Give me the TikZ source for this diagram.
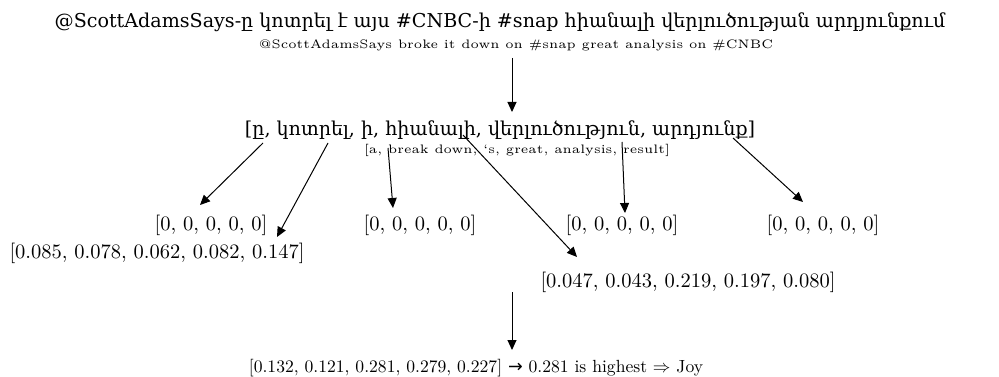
\documentclass[tikz,border=0pt]{standalone}
\usepackage{fontspec}
\usepackage{graphicx}
\newfontfamily\armfont{DejaVu Serif}
\newfontfamily\symfont{DejaVu Sans}
\usetikzlibrary{arrows.meta,positioning}
\newcommand\glosstext[1]{\scalebox{2.46}{\fontsize{5}{6}\selectfont #1}}
\newcommand\vectext[2]{\scalebox{#1}{\fontsize{10}{12}\selectfont #2}}

\begin{document}
\begin{tikzpicture}[x=1pt, y=-1pt,
    arm/.style={inner sep=0pt, font=\armfont\fontsize{19.1}{21}\selectfont},
    gloss/.style={inner sep=0pt},
    vec/.style={inner sep=0pt},
    arrow/.style={-{Triangle[length=10pt, width=9pt]}, line width=1pt}
  ]
    \useasboundingbox (0,0) rectangle (999,377);
    \node[arm] (tweet) at (500,22) {@ScottAdamsSays-ը կոտրել է այս \#CNBC-ի \#snap հիանալի վերլուծության արդյունքում};
    \node[gloss] (tweetgloss) at (516,45) {\glosstext{@ScottAdamsSays broke it down on \#snap great analysis on \#CNBC}};
    \node[arm] (tokens) at (500,130) {[ը, կոտրել, ի, հիանալի, վերլուծություն, արդյունք]};
    \node[gloss] (tokengloss) at (517,150) {\glosstext{[a, break down, `s, great, analysis, result]}};
    \node[vec] (vecA) at (211,225) {\vectext{2.05}{[0, 0, 0, 0, 0]}};
    \node[vec] (vecB) at (157,253) {\vectext{2.05}{[0.085, 0.078, 0.062, 0.082, 0.147]}};
    \node[vec] (vecC) at (420,225) {\vectext{2.05}{[0, 0, 0, 0, 0]}};
    \node[vec] (vecD) at (688,282) {\vectext{2.05}{[0.047, 0.043, 0.219, 0.197, 0.080]}};
    \node[vec] (vecE) at (622,225) {\vectext{2.05}{[0, 0, 0, 0, 0]}};
    \node[vec] (vecF) at (823,225) {\vectext{2.05}{[0, 0, 0, 0, 0]}};
    \node[vec] (total) at (476,368) {\vectext{1.76}{[0.132, 0.121, 0.281, 0.279, 0.227] {\symfont→} 0.281 is highest $\Rightarrow$ Joy}};
    \coordinate (inTop) at (512,58);
    \coordinate (outTop) at (512,112);
    \coordinate (fromA) at (263,143);
    \coordinate (toA) at (200,205);
    \coordinate (fromB) at (328,143);
    \coordinate (toB) at (277,237);
    \coordinate (fromC) at (388,148);
    \coordinate (toC) at (393,208);
    \coordinate (fromD) at (463,135);
    \coordinate (toD) at (577,257);
    \coordinate (fromE) at (622,142);
    \coordinate (toE) at (625,213);
    \coordinate (fromF) at (733,138);
    \coordinate (toF) at (803,202);
    \coordinate (inSum) at (512,292);
    \coordinate (outSum) at (512,350);
    \draw[arrow] (inTop) -- (outTop);
    \draw[arrow] (fromA) -- (toA);
    \draw[arrow] (fromB) -- (toB);
    \draw[arrow] (fromC) -- (toC);
    \draw[arrow] (fromD) -- (toD);
    \draw[arrow] (fromE) -- (toE);
    \draw[arrow] (fromF) -- (toF);
    \draw[arrow] (inSum) -- (outSum);
  \end{tikzpicture}
\end{document}
